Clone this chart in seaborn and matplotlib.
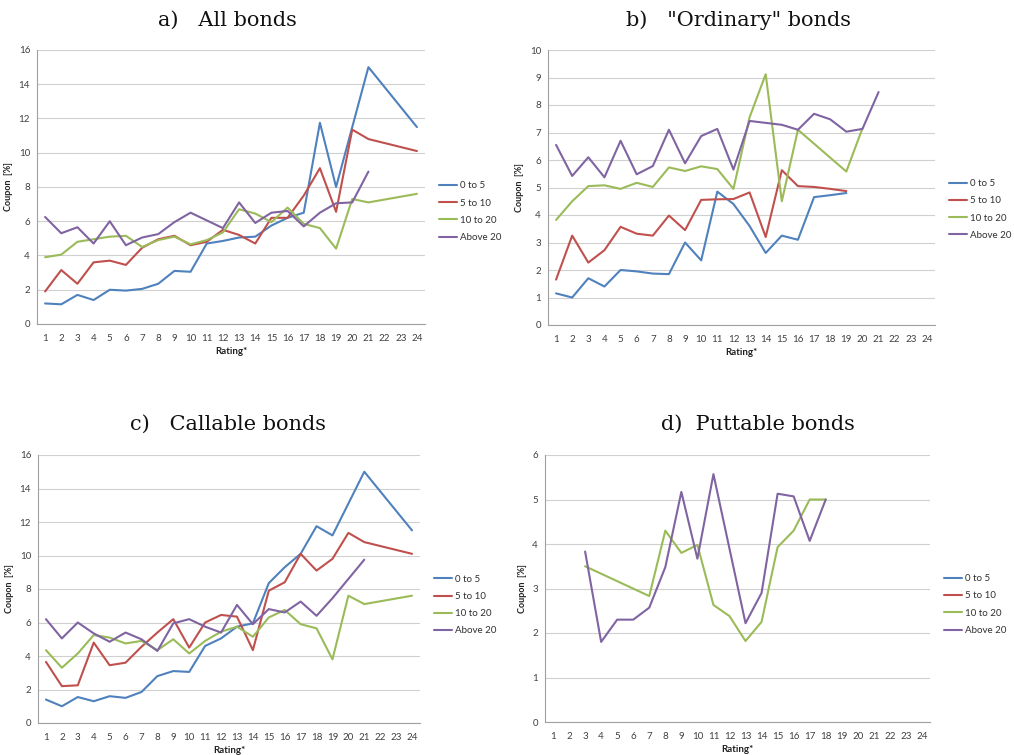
import numpy as np
import pandas as pd
import seaborn as sns
import matplotlib
matplotlib.use("Agg")
import matplotlib.pyplot as plt
from matplotlib.lines import Line2D

N = None
ratings = list(range(1, 25))
groups = ["0 to 5", "5 to 10", "10 to 20", "Above 20"]
colors = ["#4F81BD", "#C0504D", "#9BBB59", "#8064A2"]

# a) All bonds
all_0_5 = [1.2, 1.15, 1.7, 1.4, 2.0, 1.95, 2.05, 2.35, 3.1, 3.05, 4.7, 4.85, 5.05, 5.1,
           5.75, 6.2, 6.5, 11.75, 8.0, 11.5, 15.0, N, N, 11.5]
all_5_10 = [1.9, 3.15, 2.35, 3.6, 3.7, 3.45, 4.45, 4.95, 5.15, 4.6, 4.8, 5.5, 5.2, 4.7,
            6.2, 6.2, 7.5, 9.1, 6.55, 11.35, 10.8, N, N, 10.1]
all_10_20 = [3.9, 4.05, 4.8, 4.95, 5.1, 5.15, 4.5, 4.9, 5.1, 4.65, 4.9, 5.35, 6.7, 6.45,
             5.95, 6.8, 5.85, 5.6, 4.4, 7.3, 7.1, N, N, 7.6]
all_above_20 = [6.25, 5.3, 5.65, 4.7, 6.0, 4.6, 5.05, 5.25, 5.95, 6.5, 6.05, 5.6, 7.1, 5.9,
                6.5, 6.6, 5.7, 6.5, 7.05, 7.1, 8.9, N, N, N]

# b) "Ordinary" bonds
ord_0_5 = [1.15, 1.0, 1.7, 1.4, 2.0, 1.95, 1.87, 1.85, 3.0, 2.35, 4.85, 4.4, 3.6, 2.62,
           3.25, 3.1, 4.65, 4.72, 4.8, N, N, N, N, N]
ord_5_10 = [1.65, 3.25, 2.27, 2.72, 3.57, 3.32, 3.25, 3.98, 3.45, 4.55, 4.57, 4.58, 4.82, 3.2,
            5.63, 5.05, 5.02, 4.95, 4.87, N, N, N, N, N]
ord_10_20 = [3.82, 4.5, 5.05, 5.08, 4.95, 5.17, 5.02, 5.73, 5.6, 5.77, 5.67, 4.95, 7.55, 9.12,
             4.5, 7.1, N, N, 5.58, 7.15, N, N, N, N]
ord_above_20 = [6.55, 5.42, 6.1, 5.37, 6.7, 5.48, 5.78, 7.1, 5.88, 6.87, 7.13, 5.65, 7.42, 7.35,
                7.28, 7.1, 7.68, 7.48, 7.03, 7.13, 8.47, N, N, N]

# c) Callable bonds
call_0_5 = [1.4, 1.0, 1.55, 1.3, 1.6, 1.5, 1.85, 2.8, 3.1, 3.05, 4.6, 5.05, 5.75, 5.95,
            8.35, 9.3, 10.1, 11.75, 11.2, 13.1, 15.0, N, N, 11.5]
call_5_10 = [3.65, 2.2, 2.25, 4.8, 3.45, 3.6, 4.55, 5.4, 6.2, 4.5, 6.0, 6.45, 6.35, 4.35,
             7.9, 8.4, 10.1, 9.1, 9.8, 11.35, 10.8, N, N, 10.1]
call_10_20 = [4.35, 3.3, 4.15, 5.25, 5.1, 4.75, 4.9, 4.35, 5.0, 4.15, 4.9, 5.45, 5.75, 5.15,
              6.3, 6.75, 5.9, 5.65, 3.8, 7.6, 7.1, N, N, 7.6]
call_above_20 = [6.2, 5.05, 6.0, 5.35, 4.85, 5.4, 5.0, 4.3, 5.95, 6.2, 5.75, 5.4, 7.05, 5.9,
                 6.8, 6.6, 7.25, 6.4, 7.45, 8.6, 9.75, N, N, N]

# d) Puttable bonds
put_0_5 = [N] * 24
put_5_10 = [N] * 24
put_10_20 = [N, N, 3.5, N, N, N, 2.83, 4.3, 3.8, 3.98, 2.63, 2.38, 1.82, 2.25,
             3.93, 4.3, 5.0, 5.0, N, N, N, N, N, N]
put_above_20 = [N, N, 3.83, 1.8, 2.3, 2.3, 2.57, 3.48, 5.17, 3.67, 5.57, N, 2.22, 2.9,
                5.13, 5.07, 4.07, 5.0, N, N, N, N, N, N]

panels = [
    ("a)   All bonds", [all_0_5, all_5_10, all_10_20, all_above_20], 16, 2),
    ('b)   "Ordinary" bonds', [ord_0_5, ord_5_10, ord_10_20, ord_above_20], 10, 1),
    ("c)   Callable bonds", [call_0_5, call_5_10, call_10_20, call_above_20], 16, 2),
    ("d)  Puttable bonds", [put_0_5, put_5_10, put_10_20, put_above_20], 6, 1),
]

# axes rectangles in pixels: left, top, right, bottom
boxes = [(37, 50, 425, 324), (548, 50, 935, 325), (38, 455, 420, 723), (545, 455, 930, 722)]
title_pos = [(227, 20), (738, 20), (228, 424), (758, 424)]
legend_y = [0.41, 0.42, 0.44, 0.44]
W, H = 1014, 755

sns.set_theme(style="white")
plt.rcParams["font.family"] = ["Lato", "DejaVu Sans"]
fig = plt.figure(figsize=(W / 100, H / 100), dpi=100)

grid_c = "#d0d0d0"
for (title, series, ymax, ystep), (l, t, r, b), (tx, ty), ly in zip(panels, boxes, title_pos, legend_y):
    ax = fig.add_axes([l / W, 1 - b / H, (r - l) / W, (b - t) / H])
    rows = []
    for g, vals in zip(groups, series):
        for x, v in zip(ratings, vals):
            if v is not None:
                rows.append({"Rating": x, "Coupon": v, "Group": g})
    df = pd.DataFrame(rows)
    sns.lineplot(data=df, x="Rating", y="Coupon", hue="Group", hue_order=groups,
                 palette=dict(zip(groups, colors)), linewidth=1.5, ax=ax,
                 legend=False, estimator=None, sort=True)
    ax.set_xlim(0.5, 24.5)
    ax.set_ylim(0, ymax)
    ax.set_yticks(np.arange(0, ymax + 0.01, ystep))
    ax.set_xticks(ratings)
    ax.set_xticks(np.arange(0.5, 25, 1), minor=True)
    ax.tick_params(axis="x", which="major", length=0, labelsize=7, colors="#404040", pad=7)
    ax.tick_params(axis="x", which="minor", length=3, width=0.7, color="#a0a0a0", direction="out")
    ax.tick_params(axis="y", which="major", length=3, width=0.7, color="#a0a0a0",
                   labelsize=7, labelcolor="#404040", direction="out", pad=2)
    ax.grid(axis="y", color=grid_c, linewidth=0.8)
    ax.grid(axis="x", visible=False)
    ax.set_axisbelow(True)
    for s in ["top", "right"]:
        ax.spines[s].set_visible(False)
    for s in ["left", "bottom"]:
        ax.spines[s].set_color("#a0a0a0")
        ax.spines[s].set_linewidth(0.8)
    ax.set_xlabel("Rating*", fontsize=7, fontweight="bold", color="#202020", labelpad=3)
    ax.set_ylabel("Coupon  [%]", fontsize=6.5, fontweight="bold", color="#202020", labelpad=4)

    handles = [Line2D([0], [0], color=c, linewidth=1.5) for c in colors]
    ax.legend(handles, groups, loc="center left", bbox_to_anchor=(1.013, ly),
              frameon=False, fontsize=7, handlelength=1.9, handletextpad=0.25,
              labelspacing=0.85, labelcolor="#303030")

    fig.text(tx / W, 1 - ty / H, title, ha="center", va="center", fontsize=15,
             family=["DejaVu Serif"], color="#111111")

fig.savefig("out.png", dpi=100)
